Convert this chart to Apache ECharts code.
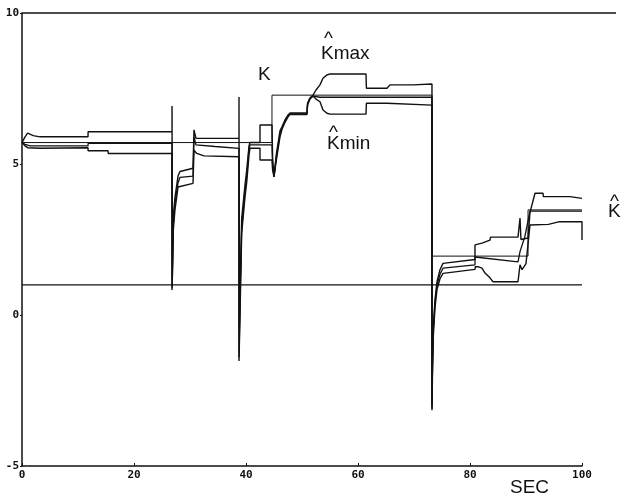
<!DOCTYPE html>
<html><head><meta charset="utf-8">
<script src="https://cdn.jsdelivr.net/npm/echarts@6/dist/echarts.min.js"></script>
<style>html,body{margin:0;padding:0;background:#fff}#c{width:628px;height:496px}</style>
</head><body><div id="c"></div>
<script>
const xTicks = [0, 20, 40, 60, 80, 100];
const yTicks = [-5, 0, 5, 10];

const K = [[0,5.71],[44.64,5.71],[44.64,7.28],[73.21,7.28],[73.21,1.95],[90.36,1.95],[90.36,3.48],[100,3.48]];

const Kmax = [[0,5.71],[0.54,5.9],[1.0,6.02],[2.0,5.94],[3.21,5.9],[11.79,5.9],[11.8,6.07],[26.79,6.07],
[26.79,6.92],[26.85,1.2],[27.02,3.3],[27.32,3.9],[27.63,4.3],[27.86,4.6],[28.21,4.75],[30.54,4.86],[30.71,4.86],[30.71,6.13],[31.07,5.85],[38.75,5.85],
[38.75,7.22],[38.8,-0.5],[38.93,0.8],[39.23,3.2],[39.82,4.3],[40.13,4.8],[40.54,5.6],[40.71,5.71],[42.5,5.71],[42.5,6.29],[44.64,6.29],
[44.75,5.2],[45.0,4.57],[45.4,5.3],[46.07,6.1],[46.43,6.23],[46.96,6.46],[47.5,6.62],[47.86,6.69],[50.89,6.69],[51.0,7.02],[51.43,7.19],[51.96,7.28],[52.5,7.45],[53.21,7.62],[53.75,7.84],[54.46,7.95],[55.0,7.98],[61.43,7.98],[61.5,7.51],[65.18,7.51],[65.71,7.62],[69.82,7.62],[69.9,7.65],[73.21,7.65],
[73.21,-3.0],[73.3,-1.6],[73.45,-0.4],[73.75,0.5],[74.11,1.1],[74.64,1.5],[75.18,1.71],[80.89,1.84],[80.89,2.32],[82.14,2.38],[83.57,2.48],[83.65,2.58],[88.57,2.58],[88.93,3.21],[89.1,2.5],[90.36,2.55],[90.71,3.4],[91.61,4.03],[93.04,4.03],[93.1,3.92],[97.86,3.92],[97.9,3.86],[100,3.86]];

const Khat = [[0,5.71],[0.54,5.65],[1.43,5.6],[11.79,5.6],[11.8,5.68],[26.79,5.68],
[26.79,0.9],[27.02,3.0],[27.32,3.7],[27.63,4.1],[27.86,4.37],[28.21,4.56],[30.54,4.6],[30.71,4.6],[30.71,5.9],[31.07,5.63],[34.5,5.58],[38.75,5.52],
[38.75,-1.4],[38.93,0.3],[39.23,2.9],[39.82,4.1],[40.13,4.6],[40.54,5.5],[40.71,5.63],[44.64,5.63],
[44.75,5.0],[45.0,4.6],[45.4,5.2],[46.07,6.0],[46.43,6.2],[46.96,6.42],[47.5,6.6],[47.86,6.66],[50.89,6.66],[51.0,7.0],[51.43,7.17],[51.96,7.25],[53.21,7.21],[73.21,7.21],
[73.21,-3.1],[73.3,-1.7],[73.45,-0.5],[73.75,0.4],[74.11,1.0],[74.64,1.35],[75.18,1.55],[80.89,1.66],[80.89,1.92],[88.57,1.76],[88.93,2.1],[89.8,2.6],[90.71,3.44],[100,3.44]];

const Kmin = [[0,5.71],[0.54,5.6],[1.0,5.54],[3.21,5.52],[11.79,5.54],[11.8,5.44],[15.36,5.44],[15.4,5.35],[26.79,5.35],
[26.79,0.83],[27.02,2.8],[27.32,3.5],[27.63,3.9],[27.86,4.24],[28.21,4.30],[30.54,4.36],[30.71,4.36],[30.71,5.46],[31.2,5.35],[32.5,5.27],[38.75,5.24],
[38.75,-1.52],[38.93,0.0],[39.23,2.7],[39.82,3.9],[40.13,4.4],[40.54,5.3],[40.71,5.52],[42.5,5.52],[42.5,5.13],[44.64,5.13],
[44.75,4.8],[45.0,4.57],[45.4,5.1],[46.07,5.9],[46.43,6.15],[46.96,6.38],[47.5,6.56],[47.86,6.64],[50.89,6.64],[51.0,6.96],[51.43,7.15],[51.96,7.25],[52.5,7.15],[53.21,7.06],[53.75,6.79],[54.46,6.68],[55.0,6.65],[61.43,6.65],[61.5,7.01],[65.18,7.01],[65.25,6.95],[73.21,6.95],
[73.21,-3.15],[73.3,-1.9],[73.45,-0.7],[73.75,0.25],[74.11,0.85],[74.64,1.2],[75.18,1.38],[80.89,1.51],[80.95,1.6],[81.43,1.6],[82.14,1.55],[82.68,1.39],[83.57,1.23],[84.11,1.10],[88.57,1.10],[88.93,1.66],[89.3,1.5],[90.0,1.7],[90.71,2.98],[94,3.0],[96,3.09],[100,3.09],[100,2.48]];

const refLine = [[0,1.0],[100,1.0]];
const topLine = [[0,10],[100,10]];

const chart = echarts.init(document.getElementById('c'), null, {renderer:'canvas'});
const ink = '#111';
const lineSeries = (name, data, w, gi) => ({
  name, type:'line', data, symbol:'none', clip:false, animation:false,
  xAxisIndex:gi||0, yAxisIndex:gi||0,
  lineStyle:{color:ink, width:w}, z: 3
});
const tickFont = {fontFamily:'DejaVu Sans Mono', fontWeight:'bold', fontSize:11, color:ink};
const labFont = {fontFamily:'Liberation Sans', fontSize:19, fill:ink};
const txt = (t, x, y) => ({type:'text', left:x, top:y, style:Object.assign({text:t}, labFont)});
chart.setOption({
  animation:false,
  backgroundColor:'#fff',
  grid:[{left:22, right:46, top:13, bottom:30},{left:22, right:12, top:13, bottom:30}],
  xAxis:[{type:'value', min:0, max:100, interval:20,
    axisLine:{onZero:false, lineStyle:{color:ink, width:1.5}},
    axisTick:{inside:true, length:3, lineStyle:{color:ink}},
    axisLabel:Object.assign({margin:4, formatter:v=>xTicks.includes(v)?String(v):''}, tickFont),
    splitLine:{show:false}},
    {type:'value', gridIndex:1, min:0, max:100, show:false}],
  yAxis:[{type:'value', min:-5, max:10, interval:5,
    axisLine:{show:true, onZero:false, lineStyle:{color:ink, width:1.5}},
    axisTick:{show:true, length:2, lineStyle:{color:ink}},
    axisLabel:Object.assign({margin:3, padding:[0,0,6,0], formatter:v=>yTicks.includes(v)?String(v):''}, tickFont),
    splitLine:{show:false}},
    {type:'value', gridIndex:1, min:-5, max:10, show:false}],
  series:[
    lineSeries('top', topLine, 1.5, 1),
    lineSeries('ref', refLine, 1.2),
    lineSeries('K', K, 1.0),
    lineSeries('Kmax', Kmax, 1.4),
    lineSeries('Khat', Khat, 1.3),
    lineSeries('Kmin', Kmin, 1.4)
  ],
  graphic:[
    txt('K', 258, 65),
    txt('^', 324, 29), txt('Kmax', 321, 44),
    txt('^', 329, 123), txt('Kmin', 327, 134),
    txt('^', 610, 192), txt('K', 608, 202),
    txt('SEC', 510, 478)
  ]
});
</script></body></html>
